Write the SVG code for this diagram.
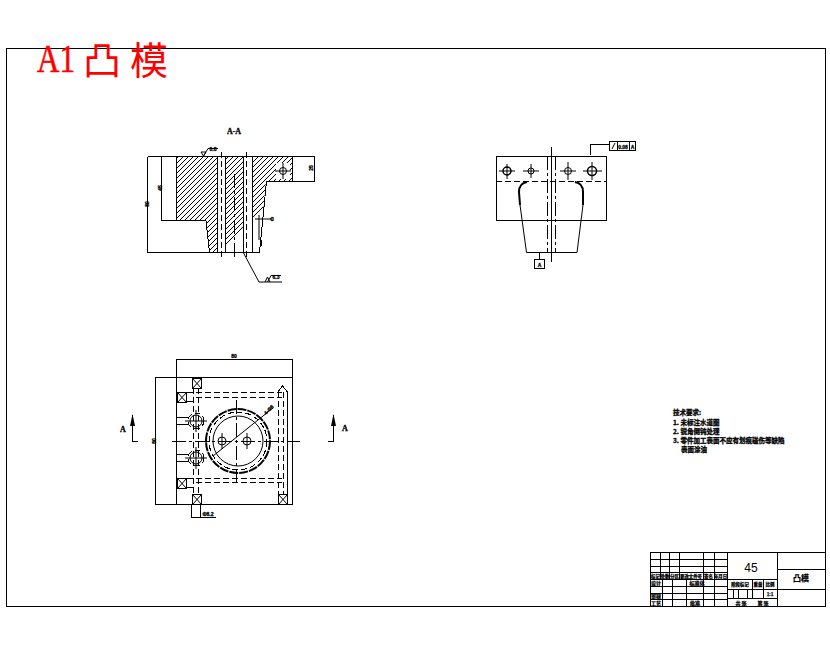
<svg xmlns="http://www.w3.org/2000/svg" width="830" height="654" viewBox="0 0 830 654">
<style>
.l{fill:none;stroke:#000;stroke-width:1;shape-rendering:crispEdges}
.s{fill:none;stroke:#000;stroke-width:1}
.k{fill:none;stroke:#000;stroke-width:2}
.d{fill:none;stroke:#000;stroke-width:1;stroke-dasharray:6 3;shape-rendering:crispEdges}
.c{fill:none;stroke:#000;stroke-width:1;stroke-dasharray:14 3 3 3;shape-rendering:crispEdges}
.t{font-family:"Liberation Sans","Noto Sans CJK SC",sans-serif;font-weight:bold;fill:#000;stroke:#000;stroke-width:.3;font-size:5px;text-anchor:middle}
.z{font-family:"Noto Sans CJK SC",sans-serif;font-weight:bold;fill:#000;stroke:#000;stroke-width:.25;font-size:5px;text-anchor:middle}
.y{font-size:4.4px}
.n{font-family:"Noto Sans CJK SC",sans-serif;font-weight:bold;fill:#000;stroke:#000;stroke-width:.3;font-size:6.5px}
.m{font-family:"Liberation Serif",serif;font-weight:bold;fill:#000;stroke:#000;stroke-width:.3;font-size:8px;text-anchor:middle}
.r{fill:#f00;stroke:#f00;stroke-width:.6}
.q{fill:#f00}
</style>
<defs>
<clipPath id="hc"><path d="M176 156H217V252H209L206 220H176ZM225 156H243V252H225ZM252 156H292V181H266L259 252H252Z"/></clipPath>
<g id="xb"><rect class="l" x="0" y="0" width="9" height="10"/><path class="s" d="M0 0L9 10M9 0L0 10"/></g>
</defs>
<rect width="830" height="654" fill="#fff"/>
<g id="frame"><rect class="l" x="6.5" y="48.5" width="819" height="558"/></g>
<g id="title">
<text class="r" x="37" y="72" font-family="Liberation Serif,serif" font-size="40" textLength="38" lengthAdjust="spacingAndGlyphs">A1</text>
<text class="q" x="83" y="74" font-family="Noto Sans CJK SC,sans-serif" font-size="38">凸</text>
<text class="q" x="130" y="74" font-family="Noto Sans CJK SC,sans-serif" font-size="38">模</text>
</g>
<g id="section-view">
<text class="m" x="234" y="134">A-A</text>
<path clip-path="url(#hc)" class="l" d="M70 260L180 150M75 260L185 150M80 260L190 150M85 260L195 150M90 260L200 150M95 260L205 150M100 260L210 150M105 260L215 150M110 260L220 150M115 260L225 150M120 260L230 150M125 260L235 150M130 260L240 150M135 260L245 150M140 260L250 150M145 260L255 150M150 260L260 150M155 260L265 150M160 260L270 150M165 260L275 150M170 260L280 150M175 260L285 150M180 260L290 150M185 260L295 150M190 260L300 150M195 260L305 150M200 260L310 150M205 260L315 150M210 260L320 150"/>
<rect x="276" y="163" width="14" height="16" fill="#fff"/>
<path class="l" d="M147.500 156.500H315M176.500 156.500V220.500M161 220.500H206L209.500 252.500M147 252.500H259.500L266.500 181.500H315M292.500 156.500V181.500M217.500 156.500V252.500M225.500 156.500V252.500M243.500 156.500V252.500M252.500 156.500V252.500"/>
<path class="l" d="M147.500 156.500V252.500M161.500 156.500V220.500M314.500 156.500V181.500"/>
<path class="d" d="M221.500 152V258M246.500 152V258"/>
<path class="c" d="M234.500 174V258"/>
<path class="s" d="M275 171H291M283 163V179"/><circle class="s" cx="283" cy="171" r="3.500"/>
<path class="s" d="M201 152H206L203.500 156ZM203.500 156L208 148.500H218"/>
<text class="t" x="213" y="151">0.8</text>
<path class="s" d="M243 252L259 282H282M265 282L267.500 277L270 282M267.500 282L271 275.500H281"/>
<text class="t" x="276" y="279">6.3</text>
<path class="s" d="M255 219H274M259 215V240"/>
<path class="k" d="M261 240V246"/>
<text class="t" x="272" y="221">C</text>
<text class="t" transform="translate(146.500 204) rotate(-90)" x="0" y="2">80</text>
<text class="t" transform="translate(160 188) rotate(-90)" x="0" y="2">45</text>
<text class="t" transform="translate(311 168) rotate(-90)" x="0" y="2">25</text>
</g>
<g id="side-view">
<rect class="l" x="496.500" y="156.500" width="110" height="64"/>
<path class="d" d="M496 181.500H606"/>
<path class="c" d="M547.500 156V252M555.500 156V252"/>
<path class="l" d="M551.500 147V262"/>
<path class="s" d="M520 205L526.500 252.500H577L583 205"/>
<path class="k" d="M527 182C521 183 519 187 519 192L520 205M575 182C581 183 583 187 583 192L583 205"/>
<g class="s">
<circle cx="507" cy="171" r="4" stroke-width="1.500"/><circle cx="531" cy="171" r="3"/><circle cx="568" cy="171" r="3.500"/><circle cx="592" cy="171" r="4.500" stroke-width="1.500"/>
<path d="M499 171H515M507 164V179M523 171H539M531 164V178M560 171H576M568 162V180M583 171H602M592 162V180"/>
</g>
<path class="l" d="M539.500 252V259M590.500 155V144.500H609"/>
<rect class="l" x="534.500" y="259.500" width="10" height="9"/>
<text class="t" x="539.500" y="267">A</text>
<rect class="l" x="609.500" y="141.500" width="26" height="9"/>
<path class="l" d="M617.500 141V150M629.500 141V150"/>
<text class="t" x="623" y="148.500">0.08</text>
<path class="s" d="M612 149L615 143"/>
<text class="t" x="632.500" y="148.500">A</text>
</g>
<g id="plan-view">
<rect class="l" x="176.500" y="377.500" width="116" height="127"/>
<path class="l" d="M176.500 359V377M292.500 359V377M176.500 359.500H292.500M155.500 378V504M155 377.500H176M155 504.500H176"/>
<text class="t" x="234" y="358">80</text>
<text class="t" transform="translate(154 441) rotate(-90)" x="0" y="2">80</text>
<path class="c" d="M172 441.500H300"/>
<path class="c" d="M236.500 400V484"/>
<circle class="k" cx="238" cy="441" r="32" stroke-dasharray="9 1"/>
<circle class="d" cx="238" cy="441" r="29"/>
<circle class="s" cx="238" cy="441" r="25"/>
<circle class="s" cx="222" cy="441" r="4"/><circle class="s" cx="247" cy="441" r="4"/>
<path class="s" d="M222 433V449M247 433V449M213 456L273 408"/>
<text class="t" transform="translate(270 411) rotate(-45)" x="0" y="0">4-Φ8</text>
<path class="d" d="M196 392.500H282M196 397.500H282M196 478.500H282M196 482.500H282"/>
<path class="d" d="M193.500 388V494M198.500 388V494M278.500 392V494M283.500 392V494"/>
<path class="l" d="M287.500 392V494M278 392L282.500 386L287.500 392M186 392.500H193M186 401.500H193M186 478.500H193M186 487.500H193"/>
<path class="l" d="M176 417.500H188M176 424.500H188M176 454.500H188M176 461.500H188"/>
<g class="s">
<circle cx="196" cy="421" r="6"/><circle cx="196" cy="458" r="6"/>
<path d="M185 421H207M196 410V432M185 458H207M196 447V469"/>
</g>
<circle class="d" cx="196" cy="421" r="8" stroke-dasharray="3 1"/>
<circle class="d" cx="196" cy="458" r="8" stroke-dasharray="3 1"/>
<use href="#xb" x="192.500" y="378.500"/>
<use href="#xb" x="177.500" y="392.500"/>
<use href="#xb" x="177.500" y="478.500"/>
<use href="#xb" x="192.500" y="494.500"/>
<use href="#xb" x="278.500" y="494.500"/>
<path class="l" d="M191.500 504V518M200.500 504V518M191 517.500H216"/>
<text class="t" x="208" y="516">Φ8.2</text>
<path class="l" d="M132.500 415V441.500H138M333.500 415V441.500H328"/>
<path d="M132.500 414L135 426H130ZM333.500 414L336 426H331Z" fill="#000"/>
<text class="m" x="123" y="432">A</text>
<text class="m" x="345" y="431">A</text>
</g>
<g id="tech-notes">
<text class="n" x="673" y="415">技术要求:</text>
<text class="n" x="673" y="425">1. 未标注水道图</text>
<text class="n" x="673" y="434">2. 锐角倒钝处理</text>
<text class="n" x="673" y="443">3. 零件加工表面不应有划痕碰伤等缺陷</text>
<text class="n" x="681" y="452">表面涂油</text>
</g>
<g id="title-block">
<path class="l" d="M650.500 552.500H825M650.500 559.500H727M650.500 566.500H727M650.500 572.500H727M650.500 579.500H777M650.500 586.500H727M650.500 593.500H727M650.500 599.500H727"/>
<path class="l" d="M650.500 552V606M660.500 552V579M669.500 552V579M679.500 552V579M703.500 552V606M714.500 552V606M727.500 552V606M777.500 552V606"/>
<path class="l" d="M662.500 579V606M672.500 579V606M686.500 579V606"/>
<path class="l" d="M777 569.500H825M777 589.500H825M727 589.500H777M727 598.500H777M752.500 579V598M763.500 579V598M733.500 589V598M738.500 589V598M747.500 589V598"/>
<text x="751" y="572" font-family="Liberation Sans,sans-serif" font-size="12" text-anchor="middle" fill="#000">45</text>
<text class="z" x="801" y="581" style="font-size:8px">凸模</text>
<g>
<text class="z y" x="655.500" y="578">标记</text>
<text class="z y" x="665" y="578">处数</text>
<text class="z y" x="674.500" y="578">分区</text>
<text class="z y" x="691" y="578">更改文件号</text>
<text class="z y" x="708.500" y="578">签名</text>
<text class="z y" x="720.500" y="578">年月日</text>
<text class="z" x="656" y="585">设计</text>
<text class="z" x="697" y="585">标准化</text>
<text class="z" x="656" y="598">审核</text>
<text class="z" x="656" y="605">工艺</text>
<text class="z" x="695" y="605">批准</text>
<text class="z y" x="740" y="586">阶段标记</text>
<text class="z y" x="758" y="586">重量</text>
<text class="z y" x="770" y="586">比例</text>
<text class="z y" x="770" y="596">1:1</text>
<text class="z" x="741" y="605">共 张</text>
<text class="z" x="763" y="605">第 张</text>
</g>
</g>
</svg>
